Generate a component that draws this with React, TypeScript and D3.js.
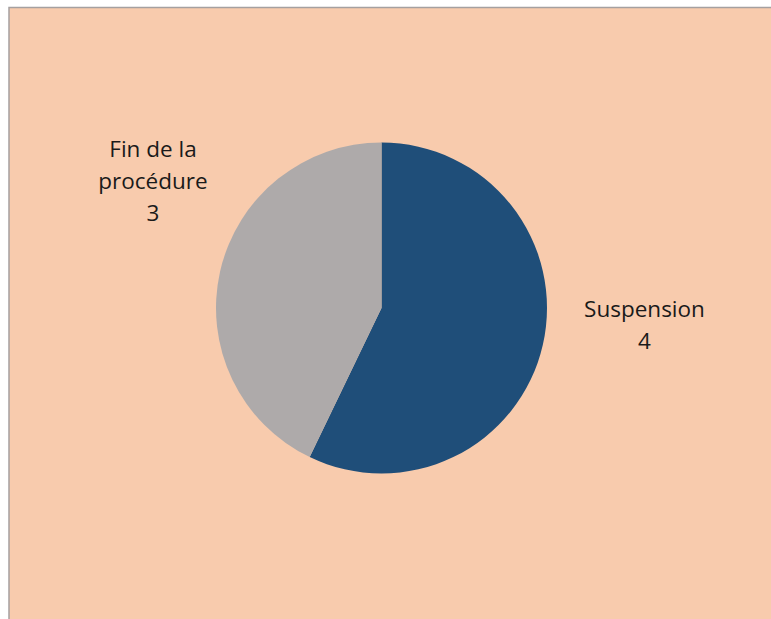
import React from "react";
import * as d3 from "d3";

const categories = ["Suspension", "Fin de la procédure"];
const values = [4, 3];
const colors = ["#1F4E79", "#AEAAAA"];

export default function App() {
  const W = 771, H = 619;
  const cx = 381.5, cy = 308, r = 165.5;
  const pie = d3.pie<number>().sort(null).value((d) => d)(values);
  const arc = d3.arc<d3.PieArcDatum<number>>().innerRadius(0).outerRadius(r);
  const labelPos = [
    { x: 644.5, y: 309 },
    { x: 153, y: 149 },
  ];
  const lines = [
    [categories[0], String(values[0])],
    ["Fin de la", "procédure", String(values[1])],
  ];
  return (
    <svg width={W} height={H} style={{ position: "absolute", left: 0, top: 0 }}
      fontFamily="'Open Sans', 'Liberation Sans', sans-serif">
      <rect x={0} y={0} width={W} height={H} fill="#ffffff" />
      <rect x={9} y={7.5} width={W} height={H} fill="#F8CBAD" stroke="#A5A0A0" strokeWidth={1.5} />
      <g transform={`translate(${cx},${cy})`}>
        {pie.map((p, i) => (
          <path key={i} d={arc(p) || ""} fill={colors[i]} />
        ))}
      </g>
      {lines.map((ls, i) => (
        <text key={i} textAnchor="middle" fontSize={22.5} fill="#1a1a1a">
          {ls.map((t, j) => (
            <tspan key={j} x={labelPos[i].x} y={labelPos[i].y + j * 32} dy="0.35em">{t}</tspan>
          ))}
        </text>
      ))}
    </svg>
  );
}
